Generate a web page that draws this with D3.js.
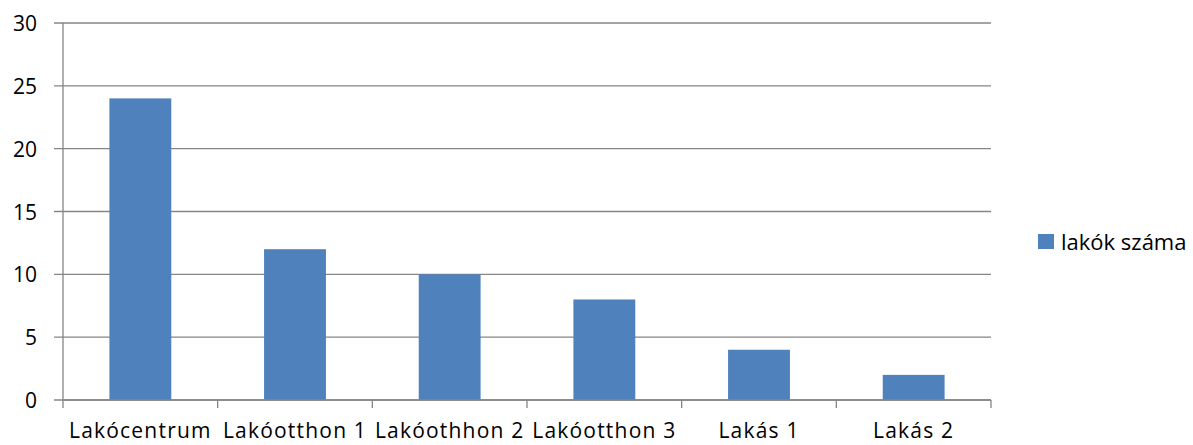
<!DOCTYPE html>
<html><head><meta charset="utf-8">
<script src="https://cdn.jsdelivr.net/npm/d3@7"></script>
<style>body{margin:0;background:#fff}svg text{font-family:"Open Sans",Lato,sans-serif;fill:#000}</style>
</head><body><svg id="c" width="1193" height="445"></svg>
<script>
const categories = ["Lakócentrum","Lakóotthon 1","Lakóothhon 2","Lakóotthon 3","Lakás 1","Lakás 2"];
const values = [24,12,10,8,4,2];
const yTicks = [0,5,10,15,20,25,30];
const seriesName = "lakók száma";

const svg = d3.select("#c");
const L=63,R=991,T=23,B=400;
const x = d3.scaleBand().domain(categories).range([L,R]).paddingInner(0.6).paddingOuter(0.3);
const xe = d3.scaleBand().domain(categories).range([L,R]);
const y = d3.scaleLinear().domain([0,30]).range([B,T]);
const grid="#868686";

svg.append("g").selectAll("line").data(yTicks).join("line")
 .attr("x1",L-9).attr("x2",R).attr("y1",d=>y(d)).attr("y2",d=>y(d))
 .attr("stroke",grid).attr("stroke-width",1.3);
svg.append("line").attr("x1",L).attr("x2",L).attr("y1",T).attr("y2",B+8).attr("stroke",grid).attr("stroke-width",1.3);
svg.append("g").selectAll("line").data(categories).join("line")
 .attr("x1",d=>xe(d)+xe.bandwidth()).attr("x2",d=>xe(d)+xe.bandwidth()).attr("y1",B).attr("y2",B+8)
 .attr("stroke",grid).attr("stroke-width",1.3);

svg.append("g").selectAll("rect").data(values).join("rect")
 .attr("x",(d,i)=>x(categories[i])).attr("width",x.bandwidth())
 .attr("y",d=>y(d)).attr("height",d=>B-y(d)).attr("fill","#4F81BD");
svg.append("line").attr("x1",L).attr("x2",R).attr("y1",B).attr("y2",B).attr("stroke",grid).attr("stroke-width",1.3);

svg.append("g").selectAll("text").data(yTicks).join("text")
 .attr("x",37).attr("y",d=>y(d)+8).attr("text-anchor","end").style("font-size","21px").text(d=>d);
svg.append("g").selectAll("text").data(categories).join("text")
 .attr("x",d=>xe(d)+xe.bandwidth()/2).attr("y",438).attr("text-anchor","middle")
 .style("font-size","21px").style("letter-spacing","1.2px").text(d=>d);

svg.append("rect").attr("x",1038).attr("y",234).attr("width",16).attr("height",15).attr("fill","#4F81BD");
svg.append("text").attr("x",1061).attr("y",250).style("font-size","22px").text(seriesName);
</script></body></html>
